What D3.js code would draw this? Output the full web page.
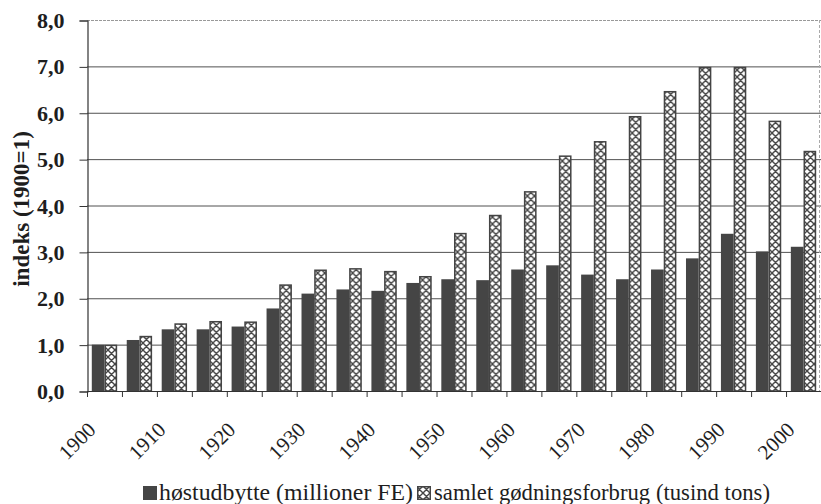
<!DOCTYPE html>
<html>
<head>
<meta charset="utf-8">
<script src="https://cdn.jsdelivr.net/npm/d3@7"></script>
<style>
  html, body { margin: 0; padding: 0; background: #fff; }
  svg { display: block; }
</style>
</head>
<body>
<svg id="chart" width="821" height="504"></svg>
<script>
// Five-year periods on the category axis
const years = ["1900","1905","1910","1915","1920","1925","1930","1935","1940","1945",
               "1950","1955","1960","1965","1970","1975","1980","1985","1990","1995","2000"];
// Labels shown under the axis
const tickLabels = ["1900","1910","1920","1930","1940","1950","1960","1970","1980","1990","2000"];
// Index values (1900 = 1)
const harvest = [1.00,1.10,1.33,1.33,1.39,1.78,2.10,2.19,2.16,2.33,
                 2.41,2.39,2.62,2.71,2.51,2.41,2.62,2.86,3.39,3.01,3.11];
const fertilizer = [1.00,1.19,1.46,1.51,1.50,2.30,2.62,2.65,2.59,2.48,
                    3.41,3.80,4.31,5.08,5.39,5.93,6.47,6.99,6.99,5.83,5.18];
const seriesNames = ["høstudbytte (millioner FE)", "samlet gødningsforbrug (tusind tons)"];
const yTicks = [0,1,2,3,4,5,6,7,8];

const FONT = "'Liberation Serif', 'Times New Roman', serif";
const TEXT = "#1e1e1e";

const svg = d3.select("#chart");
const plotLeft = 87, plotRight = 821, plotTop = 20, plotBottom = 391;

const x0 = d3.scaleBand().domain(years).range([plotLeft, plotRight]).paddingInner(0).paddingOuter(0);
const x1 = d3.scaleBand().domain([0, 1]).range([0, x0.bandwidth()]).paddingInner(0).paddingOuter(0.378);
const y = d3.scaleLinear().domain([0, 8]).range([plotBottom, plotTop]);

const ink = "#444";
const dark = "#454545";

// Cross-hatch pattern for the fertilizer bars
const defs = svg.append("defs");
const pat = defs.append("pattern")
  .attr("id", "hatch").attr("patternUnits", "userSpaceOnUse")
  .attr("width", 7).attr("height", 7);
pat.append("rect").attr("width", 7).attr("height", 7).attr("fill", "#fff");
pat.append("path").attr("d", "M0,0 L7,7 M7,0 L0,7 M-1,6 L1,8 M6,-1 L8,1")
  .attr("stroke", ink).attr("stroke-width", 1.4).attr("fill", "none");

// Horizontal gridlines
svg.append("g").selectAll("line").data(yTicks.slice(1)).join("line")
  .attr("x1", plotLeft).attr("x2", plotRight)
  .attr("y1", d => y(d) + 0.5).attr("y2", d => y(d) + 0.5)
  .attr("stroke", d => d === 8 ? "#999" : "#505050")
  .attr("stroke-dasharray", d => d === 8 ? "3,1" : null)
  .attr("stroke-width", 1);

// Right plot border
svg.append("line").attr("x1", plotRight - 1.5).attr("x2", plotRight - 1.5)
  .attr("y1", plotTop).attr("y2", plotBottom)
  .attr("stroke", "#aaa").attr("stroke-dasharray", "3,2");

// Bars
const groups = svg.append("g").selectAll("g").data(years).join("g")
  .attr("transform", d => `translate(${x0(d)},0)`);

groups.append("rect")
  .attr("x", x1(0)).attr("width", x1.bandwidth())
  .attr("y", (d, i) => y(harvest[i])).attr("height", (d, i) => y(0) - y(harvest[i]))
  .attr("fill", dark);

groups.append("rect")
  .attr("x", x1(1) + 0.75).attr("width", x1.bandwidth() - 1.5)
  .attr("y", (d, i) => y(fertilizer[i]) + 0.75)
  .attr("height", (d, i) => y(0) - y(fertilizer[i]) - 0.75)
  .attr("fill", "url(#hatch)").attr("stroke", ink).attr("stroke-width", 1.5);

// Y axis
const yAxis = d3.axisLeft(y).tickValues(yTicks).tickSize(8).tickPadding(15)
  .tickFormat(d => d3.format(".1f")(d).replace(".", ","));
const gy = svg.append("g").attr("transform", `translate(${plotLeft + 0.5},0.5)`).call(yAxis);
gy.select(".domain").attr("stroke", "#333").attr("stroke-width", 1.2);
gy.selectAll(".tick line").attr("stroke", "#333");
gy.selectAll(".tick text")
  .style("font-family", FONT).style("font-size", "22px").style("font-weight", "bold")
  .attr("fill", TEXT);

// X axis: baseline with ticks between categories
svg.append("line").attr("x1", plotLeft).attr("x2", plotRight)
  .attr("y1", plotBottom + 0.5).attr("y2", plotBottom + 0.5).attr("stroke", "#333").attr("stroke-width", 1.2);
const boundaries = years.map(d => x0(d));
svg.append("g").selectAll("line").data(boundaries).join("line")
  .attr("x1", d => d + 0.5).attr("x2", d => d + 0.5)
  .attr("y1", plotBottom).attr("y2", plotBottom + 6)
  .attr("stroke", "#333");

// Rotated year labels
svg.append("g").selectAll("text").data(tickLabels).join("text")
  .attr("transform", d => `translate(${x0(d) + x0.bandwidth() / 2 - 7.5},${plotBottom + 40}) rotate(-45)`)
  .attr("text-anchor", "end")
  .style("font-family", FONT).style("font-size", "21px")
  .attr("fill", TEXT)
  .text(d => d);

// Y axis title
svg.append("text")
  .attr("transform", `translate(29,209) rotate(-90)`)
  .attr("text-anchor", "middle")
  .style("font-family", FONT).style("font-size", "23px").style("font-weight", "bold")
  .attr("fill", TEXT)
  .text("indeks (1900=1)");

// Legend
const legend = svg.append("g").attr("transform", "translate(143,486)");
legend.append("rect").attr("x", 0).attr("y", 0).attr("width", 14).attr("height", 14).attr("fill", dark);
legend.append("text").attr("x", 16).attr("y", 14)
  .attr("textLength", 254).attr("lengthAdjust", "spacingAndGlyphs")
  .style("font-family", FONT).style("font-size", "23px").attr("fill", TEXT)
  .text(seriesNames[0]);
legend.append("rect").attr("x", 274.75).attr("y", 0.75).attr("width", 12.5).attr("height", 12.5)
  .attr("fill", "url(#hatch)").attr("stroke", ink).attr("stroke-width", 1.5);
legend.append("text").attr("x", 291).attr("y", 14)
  .attr("textLength", 336).attr("lengthAdjust", "spacingAndGlyphs")
  .style("font-family", FONT).style("font-size", "23px").attr("fill", TEXT)
  .text(seriesNames[1]);
</script>
</body>
</html>
